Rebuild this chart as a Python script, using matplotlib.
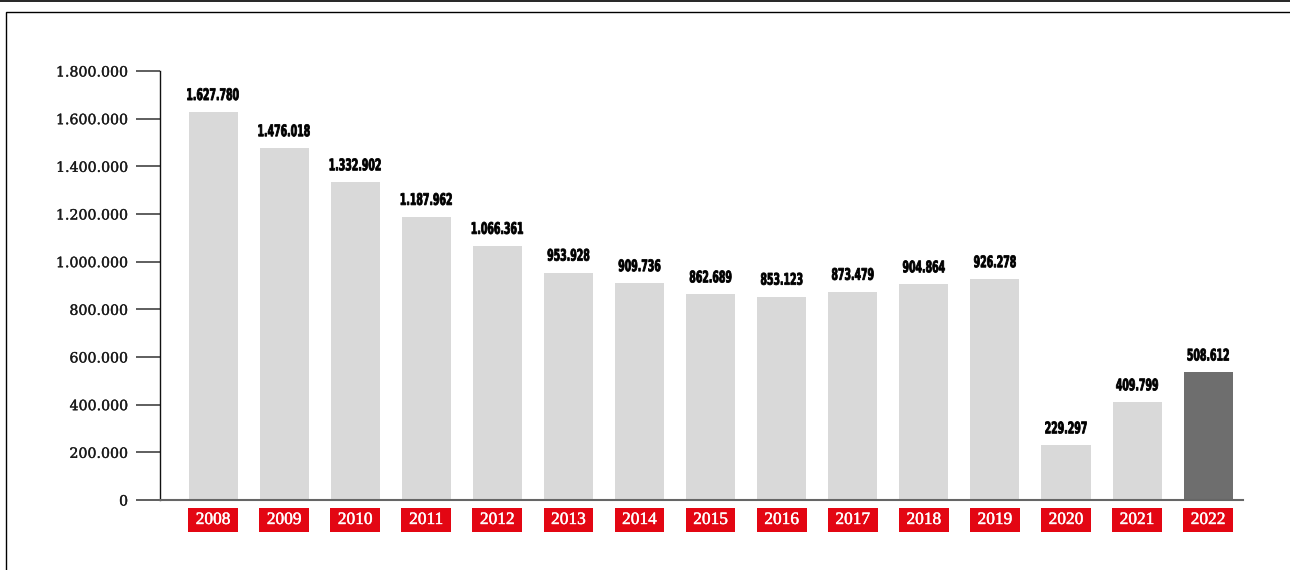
import matplotlib
matplotlib.use("Agg")
import matplotlib.pyplot as plt
import matplotlib.patheffects as pe
from matplotlib.patches import Rectangle, PathPatch
from matplotlib.lines import Line2D
from matplotlib.textpath import TextPath
from matplotlib.font_manager import FontProperties
from matplotlib.transforms import blended_transform_factory, Affine2D, ScaledTranslation

years = ["2008", "2009", "2010", "2011", "2012", "2013", "2014", "2015",
         "2016", "2017", "2018", "2019", "2020", "2021", "2022"]
values = [1627780, 1476018, 1332902, 1187962, 1066361, 953928, 909736, 862689,
          853123, 873479, 904864, 926278, 229297, 409799, 508612]
# bar heights as drawn in the picture (2022 bar is drawn taller than its label)
heights = [1627780, 1476018, 1332902, 1187962, 1066361, 953928, 909736, 862689,
           853123, 873479, 904864, 926278, 229297, 409799, 535000]
yticks = [0, 200000, 400000, 600000, 800000, 1000000, 1200000, 1400000, 1600000, 1800000]


def fmt(v):
    return f"{v:,}".replace(",", ".")


fig = plt.figure(figsize=(12.9, 5.7), dpi=100)
ax = fig.add_axes([160 / 1290, 1 - 500 / 570, (1243 - 160) / 1290, (500 - 71) / 570])

colors = ["#d9d9d9"] * (len(years) - 1) + ["#6e6e6e"]
x = list(range(len(years)))
ax.bar(x, heights, width=0.69, color=colors, zorder=2)

ax.set_xlim(-0.746, 14.49)
ax.set_ylim(0, 1800000)

ax.set_yticks(yticks)
ax.set_yticklabels([fmt(v) for v in yticks], family=["DejaVu Serif"],
                   fontsize=10.2, color="#1a1a1a")
for lbl in ax.get_yticklabels():
    lbl.set_path_effects([pe.withStroke(linewidth=0.25, foreground="#1a1a1a")])
ax.tick_params(axis="y", length=17, width=1.1, color="#333333", pad=6)
ax.set_xticks([])

for s in ["top", "right"]:
    ax.spines[s].set_visible(False)
ax.spines["left"].set_color("#111111")
ax.spines["left"].set_linewidth(1)
ax.spines["bottom"].set_color("#666666")
ax.spines["bottom"].set_linewidth(1.5)

# condensed heavy value labels (horizontally compressed bold text paths)
fp = FontProperties(family="DejaVu Sans", weight="bold")
for xi, h, v in zip(x, heights, values):
    tp = TextPath((0, 0), fmt(v), size=16.0, prop=fp)
    ext = tp.get_extents()
    sx = 0.585
    tr = (Affine2D().translate(-(ext.x0 + ext.width / 2), 0).scale(sx, 1.0).translate(0, 12)
          + ScaledTranslation(xi, h, ax.transData))
    ax.add_patch(PathPatch(tp, transform=tr, facecolor="#000000", edgecolor="#000000",
                           linewidth=0.6, clip_on=False, zorder=3))

trans = blended_transform_factory(ax.transData, ax.transAxes)
for xi, yr in zip(x, years):
    ax.add_patch(Rectangle((xi - 0.35, -0.0746), 0.70, 0.056, transform=trans,
                           facecolor="#e30613", edgecolor="none", clip_on=False))
    t = ax.text(xi, -0.0466, yr, transform=trans, ha="center", va="center",
                color="white", fontsize=12.5, family=["Liberation Serif", "DejaVu Serif"])
    t.set_path_effects([pe.withStroke(linewidth=0.3, foreground="white")])

# page frame
fig.add_artist(Line2D([0, 1], [1 - 0.7 / 570, 1 - 0.7 / 570], transform=fig.transFigure,
                      color="black", lw=1.2))
fig.add_artist(Rectangle((6 / 1290, -0.05), 1.1, 1 - 12 / 570 + 0.05, transform=fig.transFigure,
                         facecolor="none", edgecolor="black", lw=1.0, clip_on=False))

fig.savefig("out.png", dpi=100)
